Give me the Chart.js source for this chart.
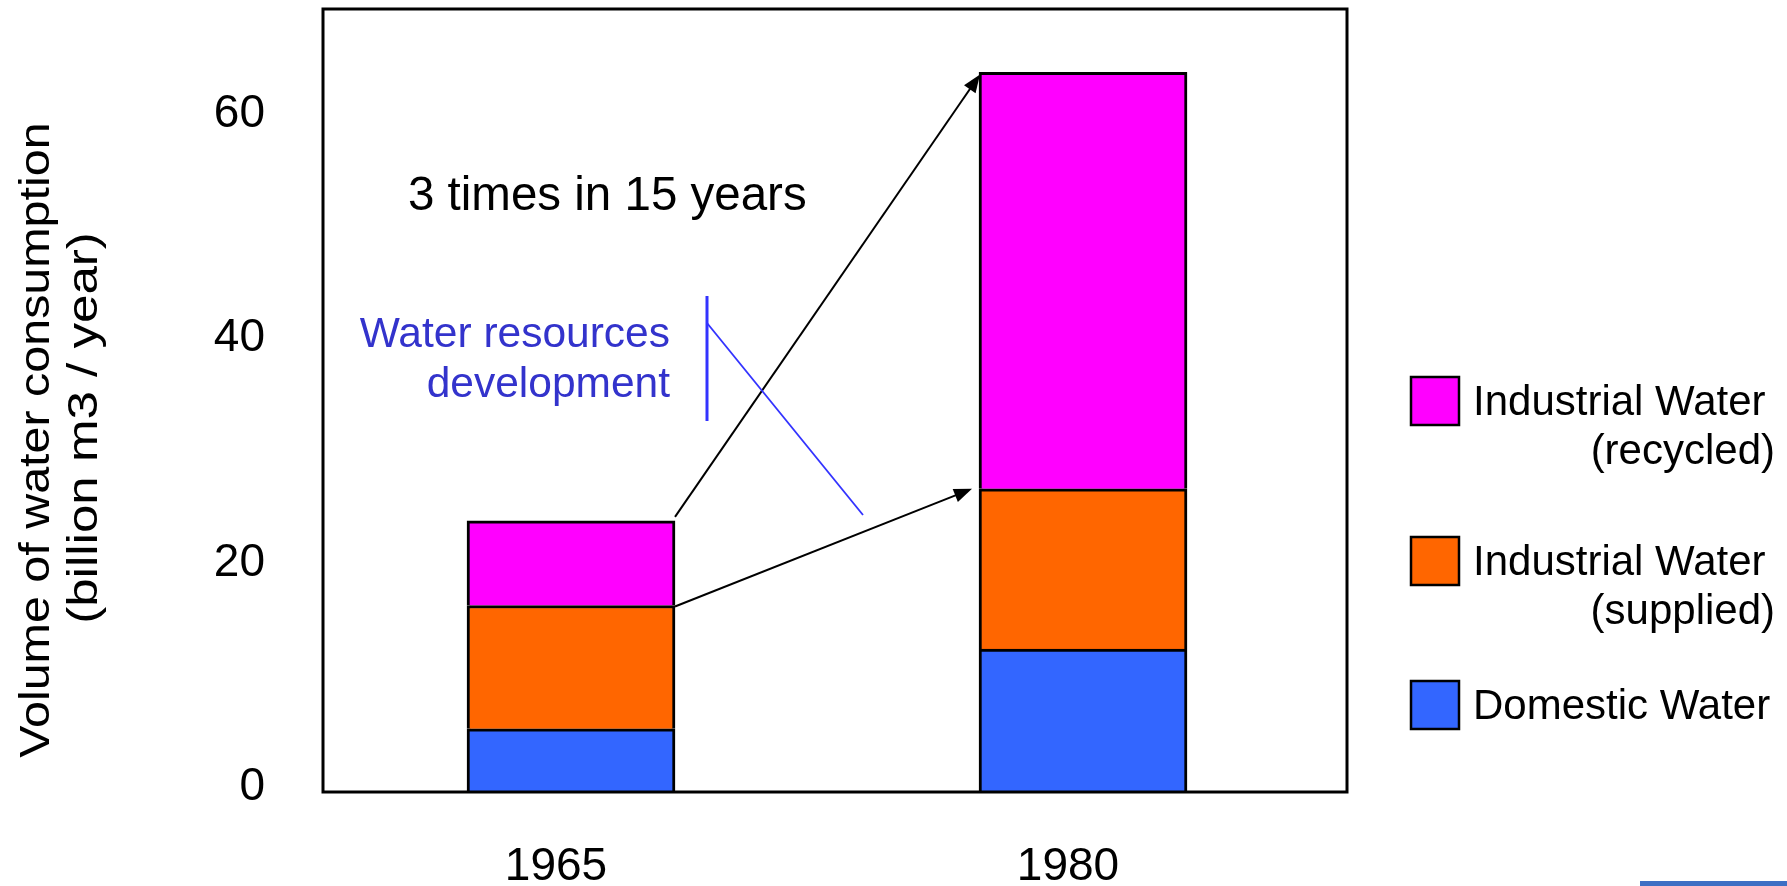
<!DOCTYPE html>
<html>
<head>
<meta charset="utf-8">
<script src="https://cdn.jsdelivr.net/npm/chart.js@4.4.1/dist/chart.umd.min.js"></script>
<style>
  body { margin: 0; background: #fff; }
  #wrap { position: relative; width: 1787px; height: 886px; }
  #corner { position: absolute; left: 1640px; top: 881px; width: 147px; height: 5px; background: #3d6fc4; }
</style>
</head>
<body>
<div id="wrap">
  <canvas id="chart" width="1787" height="886"></canvas>
  <div id="corner"></div>
</div>
<script>
// data (billion m3 / year)
const years = [1965, 1980];
const seriesNames = ['Domestic Water', 'Industrial Water (supplied)', 'Industrial Water (recycled)'];
const domestic = [5.64, 12.75];
const supplied = [11.0, 14.3];
const recycled = [7.55, 37.15];
const yTicks = [0, 20, 40, 60];
const colors = ['#3366ff', '#ff6600', '#ff00ff'];

const FONT = '"Liberation Sans", Arial, sans-serif';
const seriesValues = [domestic, supplied, recycled];

function arrow(ctx, x0, y0, x1, y1) {
  const a = Math.atan2(y1 - y0, x1 - x0);
  const c = Math.cos(a), s = Math.sin(a);
  const len = 18, w = 7;
  ctx.beginPath();
  ctx.moveTo(x0, y0);
  ctx.lineTo(x1 - c * len * 0.8, y1 - s * len * 0.8);
  ctx.stroke();
  ctx.beginPath();
  ctx.moveTo(x1, y1);
  ctx.lineTo(x1 - c * len - w * s, y1 - s * len + w * c);
  ctx.lineTo(x1 - c * len + w * s, y1 - s * len - w * c);
  ctx.closePath();
  ctx.fill();
}

// keep the plot box where the original has it
function noPad(s) {
  s.paddingTop = 0;
  s.paddingBottom = 0;
  s.paddingLeft = 0;
  s.paddingRight = 0;
}

const overlay = {
  id: 'overlay',
  afterDatasetsDraw(chart) {
    const { ctx, chartArea: a, scales: { x, y } } = chart;
    ctx.save();

    // plot frame
    ctx.strokeStyle = '#000';
    ctx.lineWidth = 3;
    ctx.strokeRect(a.left, a.top, a.right - a.left, a.bottom - a.top);

    // arrows between the two bars
    const half = 104;
    const total = years.map((_, i) => domestic[i] + supplied[i] + recycled[i]);
    const fresh = years.map((_, i) => domestic[i] + supplied[i]);
    ctx.fillStyle = '#000';
    ctx.lineWidth = 2;
    arrow(ctx, x.getPixelForValue(years[0]) + half, y.getPixelForValue(total[0]) - 4,
      x.getPixelForValue(years[1]) - half + 1, y.getPixelForValue(total[1]) + 2);
    arrow(ctx, x.getPixelForValue(years[0]) + half, y.getPixelForValue(fresh[0]) + 1,
      x.getPixelForValue(years[1]) - half - 7, y.getPixelForValue(fresh[1]));

    // text notes
    ctx.textBaseline = 'alphabetic';
    ctx.font = '47.5px ' + FONT;
    ctx.textAlign = 'left';
    ctx.fillText('3 times in 15 years', 408, 210);

    ctx.fillStyle = '#3333cc';
    ctx.font = '42.5px ' + FONT;
    ctx.textAlign = 'right';
    ctx.fillText('Water resources', 670, 347);
    ctx.fillText('development', 670, 397);

    ctx.strokeStyle = '#3333ff';
    ctx.lineWidth = 3;
    ctx.beginPath();
    ctx.moveTo(707, 296);
    ctx.lineTo(707, 421);
    ctx.stroke();
    ctx.lineWidth = 1.8;
    ctx.beginPath();
    ctx.moveTo(707, 323);
    ctx.lineTo(863, 515);
    ctx.stroke();

    // y axis title, two lines
    ctx.fillStyle = '#000';
    ctx.font = '42px ' + FONT;
    ctx.textAlign = 'center';
    ctx.textBaseline = 'middle';
    [['Volume of water consumption', 37, 440, 1.153], ['(billion m3 / year)', 85, 428, 1.216]].forEach(([t, tx, ty, k]) => {
      ctx.save();
      ctx.translate(tx, ty);
      ctx.rotate(-Math.PI / 2);
      ctx.scale(k, 1);
      ctx.fillText(t, 0, 0);
      ctx.restore();
    });

    // legend, top item = top of the stack
    const tops = [377, 537, 681];
    ctx.font = '42px ' + FONT;
    ctx.textBaseline = 'alphabetic';
    chart.data.datasets.slice().reverse().forEach((ds, k) => {
      const top = tops[k];
      ctx.fillStyle = ds.backgroundColor;
      ctx.fillRect(1411, top, 48, 48);
      ctx.strokeStyle = '#000';
      ctx.lineWidth = 2.5;
      ctx.strokeRect(1411, top, 48, 48);
      const cut = ds.label.indexOf(' (');
      const lines = cut > 0 ? [ds.label.slice(0, cut), ds.label.slice(cut + 1)] : [ds.label];
      ctx.fillStyle = '#000';
      ctx.textAlign = 'left';
      ctx.fillText(lines[0], 1473, top + 38);
      if (lines[1]) {
        ctx.textAlign = 'right';
        ctx.fillText(lines[1], 1775, top + 87);
      }
    });
    ctx.restore();
  }
};

new Chart(document.getElementById('chart'), {
  type: 'bar',
  data: {
    datasets: seriesNames.map((name, k) => ({
      label: name,
      data: years.map((yr, i) => ({ x: yr, y: seriesValues[k][i] })),
      backgroundColor: colors[k],
      borderColor: '#000',
      borderWidth: 3,
      barThickness: 208
    }))
  },
  options: {
    responsive: false,
    animation: false,
    layout: { padding: { left: 0, top: 9, right: 440, bottom: 0 } },
    plugins: { legend: { display: false }, tooltip: { enabled: false } },
    scales: {
      x: {
        type: 'linear',
        stacked: true,
        offset: false,
        min: 1957.734,
        max: 1987.734,
        grid: { display: false, drawTicks: false },
        border: { display: false },
        afterBuildTicks: s => { s.ticks = years.map(v => ({ value: v })); },
        afterFit: s => { s.height = 94; noPad(s); },
        ticks: {
          callback: v => String(v),
          font: { family: FONT, size: 46 },
          color: '#000',
          padding: 48,
          labelOffset: -15,
          maxRotation: 0,
          autoSkip: false
        }
      },
      y: {
        stacked: true,
        min: 0,
        max: 69.86,
        grid: { display: false, drawTicks: false },
        border: { display: false },
        afterBuildTicks: s => { s.ticks = yTicks.map(v => ({ value: v })); },
        afterFit: s => { s.width = 323; noPad(s); },
        ticks: {
          font: { family: FONT, size: 46 },
          color: '#000',
          padding: 58,
          labelOffset: -5
        }
      }
    }
  },
  plugins: [overlay]
});
</script>
</body>
</html>
